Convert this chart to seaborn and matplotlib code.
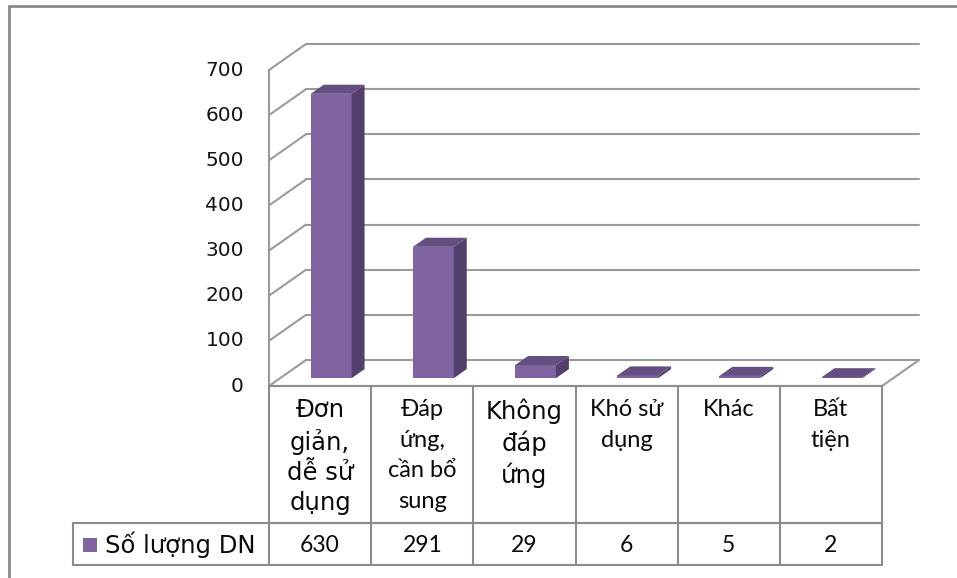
import numpy as np
import pandas as pd
import matplotlib
matplotlib.use("Agg")
import matplotlib.pyplot as plt
from matplotlib.patches import Polygon, Rectangle
import seaborn as sns

# ---------------- data ----------------
categories = ["Đơn\ngiản,\ndễ sử\ndụng", "Đáp\nứng,\ncần bổ\nsung", "Không\nđáp\nứng",
              "Khó sử\ndụng", "Khác", "Bất\ntiện"]
values = [630, 291, 29, 6, 5, 2]
series_name = "Số lượng DN"
yticks = [0, 100, 200, 300, 400, 500, 600, 700]
# font style used by each header cell in the original (Arial-like vs Calibri-like)
header_font = ["arial", "calibri", "arial", "calibri", "calibri", "calibri"]

# ---------------- style ----------------
sns.set_theme(style="white")
plt.rcParams["font.family"] = ["DejaVu Sans"]

W, H = 957, 578
fig = plt.figure(figsize=(W / 100, H / 100), dpi=100)

FX0, FX1 = 269, 882          # front plane x extent (px)
Y0, YTOP = 386, 70           # pixel y of 0 and 700 on front plane
DXP, DYP = 37, 26            # depth offset of back wall (px)
n = len(values)
ax = fig.add_axes([FX0 / W, 1 - Y0 / H, (FX1 - FX0) / W, (Y0 - YTOP) / H])
ax.set_xlim(-0.5, n - 0.5)
ax.set_ylim(0, 700)
ax.axis("off")

ux = (FX1 - FX0) / n
uy = (Y0 - YTOP) / 700
DX, DY = DXP / ux, DYP / uy

grid_c = "#9a9a9a"
lw = 1.5

# walls / gridlines
x_left, x_right = -0.5, n - 0.5
for v in yticks:
    ax.plot([x_left, x_left + DX], [v, v + DY], color=grid_c, lw=lw, clip_on=False, zorder=1,
            solid_capstyle="round")
    ax.plot([x_left + DX, x_right + DX], [v + DY, v + DY], color=grid_c, lw=lw, clip_on=False,
            zorder=1, solid_capstyle="round")
# left axis line
ax.plot([x_left, x_left], [0, 700], color=grid_c, lw=lw, clip_on=False, zorder=1)
# floor edges
ax.plot([x_left, x_right], [0, 0], color=grid_c, lw=lw, clip_on=False, zorder=1)
ax.plot([x_right, x_right + DX], [0, DY], color=grid_c, lw=lw, clip_on=False, zorder=1)

# tick labels
for v in yticks:
    ax.text(x_left - 25 / ux, v, str(v), ha="right", va="center", fontsize=14.5,
            color="#141414", family="DejaVu Sans")

# bars (front faces via seaborn)
df = pd.DataFrame({"cat": categories, "val": values})
front_c, side_c, top_c = "#8064A2", "#523F6B", "#644E82"
sns.barplot(data=df, x="cat", y="val", color=front_c, width=0.4, ax=ax,
            saturation=1, zorder=3)
f0, f1 = 0.3, 0.65
for p in ax.patches:
    x0, w, h = p.get_x(), p.get_width(), p.get_height()
    xs, ys = x0 + f0 * DX, f0 * DY
    p.set_x(xs)
    p.set_y(ys)
    p.set_edgecolor("none")
    p.set_clip_on(False)
    d = f1 - f0
    side = Polygon([(xs + w, ys), (xs + w + d * DX, ys + d * DY),
                    (xs + w + d * DX, ys + h + d * DY), (xs + w, ys + h)],
                   closed=True, facecolor=side_c, edgecolor="none", zorder=3, clip_on=False)
    top = Polygon([(xs, ys + h), (xs + w, ys + h), (xs + w + d * DX, ys + h + d * DY),
                   (xs + d * DX, ys + h + d * DY)],
                  closed=True, facecolor=top_c, edgecolor="none", zorder=3, clip_on=False)
    ax.add_patch(side)
    ax.add_patch(top)
ax.set_xlim(-0.5, n - 0.5)
ax.set_ylim(0, 700)

# ---------------- overlay: data table + frame ----------------
ov = fig.add_axes([0, 0, 1, 1], zorder=5)
ov.set_xlim(0, W)
ov.set_ylim(H, 0)
ov.axis("off")
ov.patch.set_alpha(0)

tc = "#8c8c8c"
edges = [FX0 + i * ux for i in range(n + 1)]
ROW0, ROW1, ROW2 = Y0, 523, 565
LEG_X = 73
# header row
ov.plot([edges[0], edges[-1]], [ROW0, ROW0], color=tc, lw=lw)
ov.plot([edges[0], edges[-1]], [ROW1, ROW1], color=tc, lw=lw)
for e in edges:
    ov.plot([e, e], [ROW0, ROW2], color=tc, lw=lw)
# value row
ov.plot([LEG_X, edges[-1]], [ROW1, ROW1], color=tc, lw=lw)
ov.plot([LEG_X, edges[-1]], [ROW2, ROW2], color=tc, lw=lw)
ov.plot([LEG_X, LEG_X], [ROW1, ROW2], color=tc, lw=lw)

for i, (lab, fnt) in enumerate(zip(categories, header_font)):
    cx = (edges[i] + edges[i + 1]) / 2
    if fnt == "arial":
        ov.text(cx, 398, lab, ha="center", va="top", fontsize=17.5, family="DejaVu Sans",
                color="#0a0a0a", linespacing=1.33)
    else:
        ov.text(cx, 399, lab, ha="center", va="top", fontsize=17, family="Lato",
                color="#0a0a0a", linespacing=1.56)
    ov.text(cx, (ROW1 + ROW2) / 2 + 1, str(values[i]), ha="center", va="center",
            fontsize=16.5, family="Lato", color="#0a0a0a")

# legend key
ov.add_patch(Rectangle((83, 538), 14, 14, facecolor=front_c, edgecolor="none"))
ov.text(105, (ROW1 + ROW2) / 2 + 1, series_name, ha="left", va="center", fontsize=17.5,
        family="DejaVu Sans", color="#0a0a0a")

# outer chart frame
ov.plot([9, W], [6, 6], color="#8a8a8a", lw=2)
ov.plot([9, 9], [6, H], color="#8a8a8a", lw=2)

fig.savefig("out.png", dpi=100)
